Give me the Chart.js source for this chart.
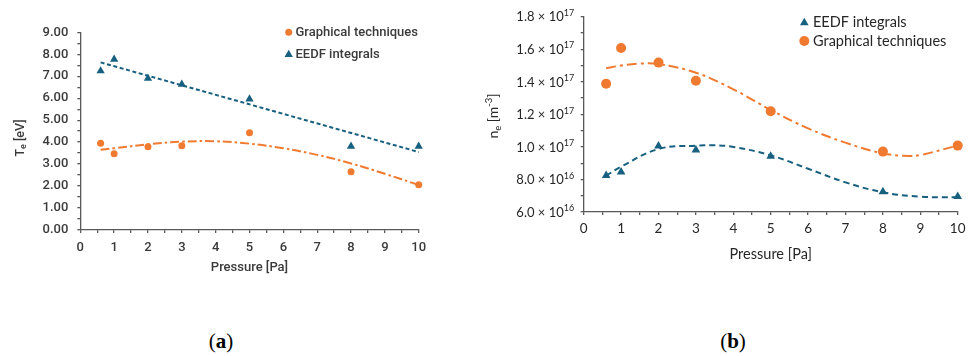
<!DOCTYPE html>
<html><head><meta charset="utf-8">
<script src="https://cdn.jsdelivr.net/npm/chart.js@4/dist/chart.umd.min.js"></script>
<style>
html,body{margin:0;padding:0;background:#fff;width:971px;height:356px;overflow:hidden}
#wa{position:absolute;left:0;top:0;width:460px;height:300px}
#wb{position:absolute;left:480px;top:0;width:491px;height:300px}
.cap{position:absolute;top:329px;font-family:"Liberation Serif",serif;font-size:21px;color:#000;transform:translateX(-50%);line-height:24px}
.cap b{font-weight:bold}
</style></head><body>
<div id="wa"><canvas id="ca"></canvas></div>
<div id="wb"><canvas id="cb"></canvas></div>
<div class="cap" style="left:221px">(<b>a</b>)</div>
<div class="cap" style="left:733px">(<b>b</b>)</div>
<script>
// ---------- data ----------
const pressure = [0.6, 1, 2, 3, 5, 8, 10];

// (a) electron temperature Te [eV]
const teGraphical = [3.95, 3.47, 3.79, 3.84, 4.43, 2.65, 2.06];
const teEEDF      = [7.24, 7.77, 6.90, 6.63, 5.96, 3.81, 3.81];
const teEEDFTrendX = [0.6, 10];
const teEEDFTrend  = [7.63, 3.55];
const teGraphicalTrendX = [0.6, 1, 2, 3, 4, 5, 6, 7, 8, 9, 10];
const teGraphicalTrend  = [3.65, 3.72, 3.90, 4.02, 4.04, 3.93, 3.72, 3.42, 3.03, 2.56, 2.05];

// (b) electron density ne [m^-3]
const neEEDF      = [8.25e16, 8.46e16, 1.006e17, 9.81e16, 9.42e16, 7.25e16, 6.96e16];
const neGraphical = [1.388e17, 1.608e17, 1.518e17, 1.407e17, 1.219e17, 9.71e16, 1.008e17];
const neEEDFTrendX = [0.6, 1, 2, 3, 3.5, 4, 5, 6, 7, 8, 9, 10];
const neEEDFTrend  = [8.23e16, 8.79e16, 9.87e16, 1.008e17, 1.010e17, 1.000e17, 9.48e16, 8.66e16, 7.82e16, 7.21e16, 6.94e16, 6.90e16];
const neGraphicalTrendX = [0.6, 1, 1.5, 2, 3, 4, 5, 6, 7, 8, 8.7, 9, 10];
const neGraphicalTrend  = [1.483e17, 1.500e17, 1.512e17, 1.509e17, 1.456e17, 1.354e17, 1.227e17, 1.114e17, 1.026e17, 9.60e16, 9.44e16, 9.50e16, 1.008e17];

// axis ranges
const xMin = 0, xMax = 10;
const teMin = 0, teMax = 9;
const neMin = 6e16, neMax = 1.8e17;

// ---------- helpers ----------
const pts = (xs, ys) => xs.map((x, i) => ({x, y: ys[i]}));
const BLUE = '#17607f', ORANGE = '#f07a30', AXIS = '#595959';

function drawRich(ctx, parts, x, y, angle, align) {
  ctx.save();
  ctx.translate(x, y);
  ctx.rotate(angle);
  ctx.textAlign = 'left';
  ctx.textBaseline = 'alphabetic';
  let w = 0;
  for (const p of parts) { ctx.font = p.font; w += ctx.measureText(p.t).width; }
  let cx = align === 'center' ? -w / 2 : (align === 'right' ? -w : 0);
  for (const p of parts) {
    ctx.font = p.font; ctx.fillStyle = p.color;
    ctx.fillText(p.t, cx, p.dy || 0);
    cx += ctx.measureText(p.t).width;
  }
  ctx.restore();
}
function marker(ctx, style, x, y, r, color) {
  ctx.save();
  ctx.fillStyle = color;
  ctx.beginPath();
  if (style === 'circle') {
    ctx.arc(x, y, r, 0, Math.PI * 2);
  } else {
    let a = 0;
    ctx.moveTo(x + Math.sin(a) * r, y - Math.cos(a) * r);
    a += 2 * Math.PI / 3; ctx.lineTo(x + Math.sin(a) * r, y - Math.cos(a) * r);
    a += 2 * Math.PI / 3; ctx.lineTo(x + Math.sin(a) * r, y - Math.cos(a) * r);
    ctx.closePath();
  }
  ctx.fill();
  ctx.restore();
}
function fixScale(w, h) {
  return function (scale) {
    if (w !== undefined) scale.width = w;
    if (h !== undefined) scale.height = h;
    scale.paddingTop = 0; scale.paddingBottom = 0;
    scale.paddingLeft = 0; scale.paddingRight = 0;
  };
}
function xAxis(font, color, pad, titleFont, titlePad, height) {
  return {
    type: 'linear', min: xMin, max: xMax,
    border: {display: true, color: AXIS, width: 1.3},
    grid: {drawOnChartArea: false, drawTicks: true, tickLength: 3, color: AXIS, lineWidth: 1.3},
    ticks: {stepSize: 0.5, autoSkip: false, maxRotation: 0, padding: pad, color: color, font: font,
            callback: v => Number.isInteger(v) ? String(v) : ''},
    title: {display: true, text: 'Pressure [Pa]', color: color, font: titleFont, padding: {top: 0, bottom: titlePad}},
    afterFit: fixScale(undefined, height)
  };
}

// ---------- chart (a) ----------
const fA = {family: 'Roboto', size: 13, weight: 500};
const TXT_A = '#3a3a3a';
new Chart(document.getElementById('ca'), {
  type: 'scatter',
  data: {datasets: [
    {label: 'Graphical techniques', data: pts(pressure, teGraphical), pointStyle: 'circle', pointRadius: 3.5,
     backgroundColor: ORANGE, borderWidth: 0, pointHoverRadius: 3.5, clip: false},
    {label: 'EEDF integrals', data: pts(pressure, teEEDF), pointStyle: 'triangle', pointRadius: 4.8,
     backgroundColor: BLUE, borderWidth: 0, pointHoverRadius: 4.8, clip: false},
    {label: 'trend EEDF', type: 'line', data: pts(teEEDFTrendX, teEEDFTrend), showLine: true, pointRadius: 0,
     borderColor: BLUE, borderWidth: 2, borderDash: [4, 2.6], fill: false, clip: false},
    {label: 'trend graphical', type: 'line', data: pts(teGraphicalTrendX, teGraphicalTrend), showLine: true, pointRadius: 0,
     borderColor: ORANGE, borderWidth: 2, borderDash: [9, 3, 2.5, 3], tension: 0.4, fill: false, clip: false}
  ]},
  options: {
    responsive: true, maintainAspectRatio: false, animation: false, devicePixelRatio: 1,
    layout: {padding: {left: 0, top: 32.3, right: 41.3, bottom: 0}},
    plugins: {legend: {display: false}, tooltip: {enabled: false}},
    events: [],
    scales: {
      x: xAxis(fA, TXT_A, 7, {family: 'Roboto', size: 13, weight: 500}, 24, 70),
      y: {
        type: 'linear', min: teMin, max: teMax,
        border: {display: true, color: AXIS, width: 1.3},
        grid: {drawOnChartArea: false, drawTicks: true, tickLength: 3, color: AXIS, lineWidth: 1.3},
        ticks: {stepSize: 0.5, autoSkip: false, padding: 9, color: TXT_A, font: fA,
                callback: v => Number.isInteger(v) ? v.toFixed(2) : ''},
        afterFit: fixScale(80.3, undefined)
      }
    }
  },
  plugins: [{
    id: 'decorA',
    afterDraw(chart) {
      const ctx = chart.ctx;
      const f = '500 12.5px Roboto', fs = '500 9px Roboto';
      drawRich(ctx, [
        {t: 'T', font: f, color: TXT_A},
        {t: 'e', font: fs, color: TXT_A, dy: 2.5},
        {t: ' [eV]', font: f, color: TXT_A}
      ], 23.5, 138, -Math.PI / 2, 'center');
      const ds = chart.data.datasets;
      const items = [[0, 32.3, 3.5], [1, 54.5, 4.8]];
      for (const [i, y, r] of items) {
        marker(ctx, ds[i].pointStyle, 288.7, y, r, ds[i].backgroundColor);
        ctx.font = '500 13px Roboto'; ctx.fillStyle = TXT_A;
        ctx.textAlign = 'left'; ctx.textBaseline = 'middle';
        ctx.fillText(ds[i].label, 295.5, y);
      }
    }
  }]
});

// ---------- chart (b) ----------
const fB = {family: 'Lato', size: 13.5, weight: 400};
const TXT_B = '#262626';
new Chart(document.getElementById('cb'), {
  type: 'scatter',
  data: {datasets: [
    {label: 'EEDF integrals', data: pts(pressure, neEEDF), pointStyle: 'triangle', pointRadius: 5,
     backgroundColor: BLUE, borderWidth: 0, pointHoverRadius: 5, clip: false},
    {label: 'Graphical techniques', data: pts(pressure, neGraphical), pointStyle: 'circle', pointRadius: 5,
     backgroundColor: ORANGE, borderWidth: 0, pointHoverRadius: 5, clip: false},
    {label: 'trend EEDF', type: 'line', data: pts(neEEDFTrendX, neEEDFTrend), showLine: true, pointRadius: 0,
     borderColor: BLUE, borderWidth: 2, borderDash: [6, 4], tension: 0.4, fill: false, clip: false},
    {label: 'trend graphical', type: 'line', data: pts(neGraphicalTrendX, neGraphicalTrend), showLine: true, pointRadius: 0,
     borderColor: ORANGE, borderWidth: 2, borderDash: [10, 4, 3, 4], tension: 0.4, fill: false, clip: false}
  ]},
  options: {
    responsive: true, maintainAspectRatio: false, animation: false, devicePixelRatio: 1,
    layout: {padding: {left: 0, top: 16.7, right: 13.3, bottom: 0}},
    plugins: {legend: {display: false}, tooltip: {enabled: false}},
    events: [],
    scales: {
      x: xAxis(fB, TXT_B, 6, {family: 'Lato', size: 14.5, weight: 400}, 37, 88),
      y: {
        type: 'linear', min: neMin, max: neMax,
        border: {display: true, color: AXIS, width: 1.3},
        grid: {drawOnChartArea: false, drawTicks: true, tickLength: 3, color: AXIS, lineWidth: 1.3},
        ticks: {stepSize: 1e16, autoSkip: false, padding: 6, color: TXT_B, font: fB, callback: () => ''},
        afterFit: fixScale(103.7, undefined)
      }
    }
  },
  plugins: [{
    id: 'decorB',
    afterDraw(chart) {
      const ctx = chart.ctx;
      const ys = chart.scales.y;
      for (const t of ys.ticks) {
        const k = Math.round(t.value / 1e16);
        if (k % 2 !== 0) continue;
        const e = Math.floor(Math.log10(t.value) + 1e-9);
        const m = (t.value / Math.pow(10, e)).toFixed(1);
        const py = ys.getPixelForValue(t.value);
        drawRich(ctx, [
          {t: m + ' \u00d7 10', font: '13px Lato', color: TXT_B},
          {t: String(e), font: '9px Lato', color: TXT_B, dy: -5.5}
        ], chart.chartArea.left - 9.5, py + 4.7, 0, 'right');
      }
      const f = '14px Lato', fs = '9.5px Lato';
      drawRich(ctx, [
        {t: 'n', font: f, color: TXT_B},
        {t: 'e', font: fs, color: TXT_B, dy: 3},
        {t: ' [m', font: f, color: TXT_B},
        {t: '-3', font: fs, color: TXT_B, dy: -6},
        {t: ']', font: f, color: TXT_B}
      ], 18, 116, -Math.PI / 2, 'center');
      const ds = chart.data.datasets;
      const items = [[0, 22.8, 5], [1, 41, 5]];
      for (const [i, y, r] of items) {
        marker(ctx, ds[i].pointStyle, 324.3, y, r, ds[i].backgroundColor);
        ctx.font = '14.5px Lato'; ctx.fillStyle = TXT_B;
        ctx.textAlign = 'left'; ctx.textBaseline = 'middle';
        ctx.fillText(ds[i].label, 333, y);
      }
    }
  }]
});
</script>
</body></html>
